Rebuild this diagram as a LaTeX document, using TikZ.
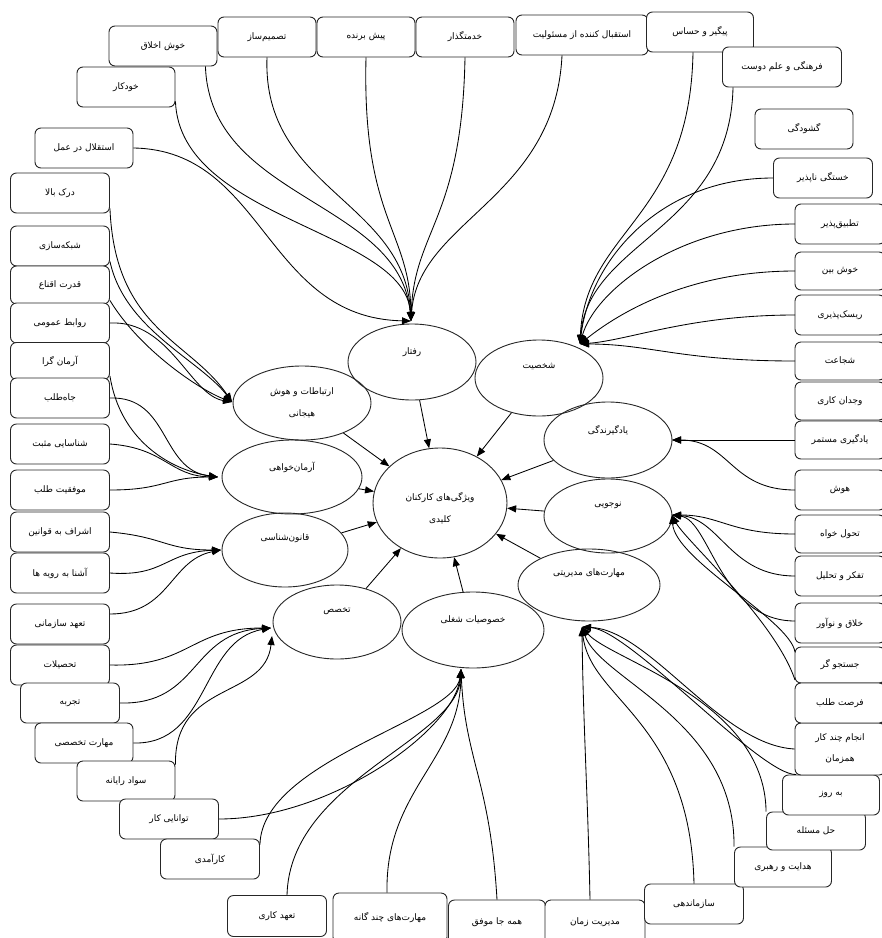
\documentclass[tikz,border=0pt]{standalone}
\usepackage{fontspec}
\usetikzlibrary{shapes.geometric,arrows.meta}
\newfontfamily\fa[Script=Arabic]{DejaVu Sans}
\TeXXeTstate=1
\tikzset{
 box/.style={draw=black!85, line width=0.9pt, rounded corners=6pt, fill=white, inner sep=2pt, align=center, font=\fa\fontsize{9}{21}\selectfont},
 ell/.style={draw=black!85, line width=0.9pt, ellipse, inner sep=0pt},
 lbl/.style={font=\fa\fontsize{9}{22}\selectfont, align=center, inner sep=1pt},
 conn/.style={draw=black, line width=0.85pt, -{Triangle[length=9pt,width=7pt]}},
}
\newcommand\bx[6]{\node[box, minimum width=#4, minimum height=#5] (#1) at (#2,#3) {#6};}
\newcommand\el[5]{\node[ell, minimum width=#4, minimum height=#5] (#1) at (#2,#3) {};}
\newcommand\rl[1]{\beginR #1\endR}
\begin{document}
\begin{tikzpicture}[x=1pt,y=-1pt]
\fill[white] (0,0) rectangle (882,938);
\useasboundingbox (0,0) rectangle (882,938);
% top boxes
\bx{akhlagh}{163}{46}{108}{40}{\rl{خوش اخلاق}}
\bx{khodkar}{126}{87}{98}{40}{\rl{خودکار}}
\bx{tasmim}{267}{37}{98}{40}{\rl{تصمیم^^^^200cساز}}
\bx{pish}{366}{37}{98}{40}{\rl{پیش برنده}}
\bx{khedmat}{465}{37}{98}{40}{\rl{خدمتگذار}}
\bx{esteghbal}{582}{35}{132}{40}{\rl{استقبال کننده از مسئولیت}}
\bx{peygir}{700}{32}{107}{40}{\rl{پیگیر و حساس}}
\bx{farhang}{782}{67}{119}{40}{\rl{فرهنگی و علم دوست}}
\bx{goshoodegi}{804}{129}{98}{40}{\rl{گشودگی}}
% left boxes
\bx{esteghlal}{84}{148}{98}{40}{\rl{استقلال در عمل}}
\bx{dark}{60}{193}{99}{40}{\rl{درک بالا}}
\bx{shabake}{60}{246}{99}{40}{\rl{شبکه^^^^200cسازی}}
\bx{ghodrat}{60}{285}{99}{38}{\rl{قدرت اقناع}}
\bx{ravabet}{60}{323}{99}{40}{\rl{روابط عمومی}}
\bx{armangara}{60}{361}{99}{37}{\rl{آرمان گرا}}
\bx{jahtalab}{60}{398}{99}{40}{\rl{جاه^^^^200cطلب}}
\bx{shenasayi}{60}{444}{99}{40}{\rl{شناسایی مثبت}}
\bx{movafagh}{60}{490}{99}{40}{\rl{موفقیت طلب}}
\bx{eshraf}{60}{532}{99}{40}{\rl{اشراف به قوانین}}
\bx{ashna}{60}{573}{99}{40}{\rl{آشنا به رویه ها}}
\bx{taahodS}{60}{624}{99}{40}{\rl{تعهد سازمانی}}
\bx{tahsil}{60}{665}{99}{40}{\rl{تحصیلات}}
\bx{tajrobe}{70}{703}{99}{40}{\rl{تجربه}}
\bx{maharatT}{84}{743}{98}{40}{\rl{مهارت تخصصی}}
\bx{savad}{126}{781}{98}{40}{\rl{سواد رایانه}}
\bx{tavanayi}{169}{819}{99}{40}{\rl{توانایی کار}}
\bx{karamadi}{210}{859}{99}{40}{\rl{کارآمدی}}
\bx{taahodK}{277}{916}{99}{41}{\rl{تعهد کاری}}
% bottom boxes
\bx{chand}{390}{918}{114}{50}{\rl{مهارت^^^^200cهای چند گانه}}
\bx{hameja}{497}{922}{97}{44}{\rl{همه جا موفق}}
\bx{zaman}{595}{922}{100}{44}{\rl{مدیریت زمان}}
\bx{sazman}{694}{904}{99}{40}{\rl{سازماندهی}}
\bx{hedayat}{783}{867}{97}{40}{\rl{هدایت و رهبری}}
\bx{hal}{816}{831}{99}{38}{\rl{حل مسئله}}
\bx{beruz}{831}{795}{97}{40}{\rl{به روز}}
\bx{anjam}{840}{749}{90}{52}{\rl{انجام چند کار}\\\rl{همزمان}}
% right boxes
\bx{khastegi}{823}{178}{99}{40}{\rl{خستگی ناپذیر}}
\bx{tatbigh}{840}{224}{90}{40}{\rl{تطبیق^^^^200cپذیر}}
\bx{khoshbin}{840}{271}{90}{38}{\rl{خوش بین}}
\bx{risk}{840}{315}{90}{40}{\rl{ریسک^^^^200cپذیری}}
\bx{shojaat}{840}{361}{90}{38}{\rl{شجاعت}}
\bx{vojdan}{840}{401}{90}{38}{\rl{وجدان کاری}}
\bx{yadgiri}{840}{440}{90}{38}{\rl{یادگیری مستمر}}
\bx{hoosh}{840}{490}{90}{40}{\rl{هوش}}
\bx{tahavol}{840}{534}{90}{38}{\rl{تحول خواه}}
\bx{tafakor}{840}{576}{90}{40}{\rl{تفکر و تحلیل}}
\bx{khalagh}{840}{623}{90}{40}{\rl{خلاق و نوآور}}
\bx{jostojoo}{840}{665}{90}{36}{\rl{جستجو گر}}
\bx{forsat}{840}{703}{90}{40}{\rl{فرصت طلب}}
% ellipses
\el{rafter}{412}{362}{128}{76}
\el{shakhsiat}{539}{378}{128}{76}
\el{ertebat}{302}{403}{138}{74}
\el{arman}{292}{477}{140}{74}
\el{ghanoon}{285}{550}{126}{74}
\el{center}{440}{503}{134}{110}
\el{yadgir}{608}{440}{128}{76}
\el{noojoo}{608}{516}{128}{74}
\el{modiriat}{589}{585}{142}{72}
\el{takhasos}{337}{622}{128}{74}
\el{khosusiat}{473}{630}{142}{76}
% ellipse labels
\node[lbl] (tRafter) at (412,352) {\rl{رفتار}};
\node[lbl] (tShakhsiat) at (539,367) {\rl{شخصیت}};
\node[lbl] (tErtebat) at (302,403) {\rl{ارتباطات و هوش}\\\rl{هیجانی}};
\node[lbl] (tArman) at (292,467) {\rl{آرمان^^^^200cخواهی}};
\node[lbl] (tGhanoon) at (285,538) {\rl{قانون^^^^200cشناسی}};
\node[lbl] (tCenter) at (440,508) {\rl{ویژگی^^^^200cهای کارکنان}\\\rl{کلیدی}};
\node[lbl] (tYadgir) at (608,431) {\rl{یادگیرندگی}};
\node[lbl] (tNoojoo) at (608,505) {\rl{نوجویی}};
\node[lbl] (tModiriat) at (589,573) {\rl{مهارت^^^^200cهای مدیریتی}};
\node[lbl] (tTakhasos) at (337,611) {\rl{تخصص}};
\node[lbl] (tKhosusiat) at (473,620) {\rl{خصوصیات شغلی}};
% target points
\coordinate (R) at (411,321);
\coordinate (S) at (580,344);
\coordinate (E) at (232,402);
\coordinate (A) at (218,477);
\coordinate (G) at (221,550);
\coordinate (T) at (271,628);
\coordinate (T2) at (272,636);
\coordinate (K) at (461,669);
\coordinate (M) at (582,627);
\coordinate (N) at (672,515);
\coordinate (Y) at (672,440);
% central arrows
\foreach \s in {rafter,shakhsiat,ertebat,arman,ghanoon,yadgir,noojoo,modiriat,takhasos,khosusiat}
  \draw[conn] (\s) -- (center);
% rafter group
\draw[conn] ([yshift=6]khodkar.south east) .. controls (180,220) and (405,230) .. (R);
\draw[conn] ([xshift=-12]akhlagh.south east) .. controls (210,200) and (400,200) .. (R);
\draw[conn] (esteghlal.east) .. controls (265,150) and (265,318) .. (R);
\draw[conn] (tasmim.south) .. controls (262,190) and (405,200) .. (R);
\draw[conn] (pish.south) .. controls (362,220) and (410,230) .. (R);
\draw[conn] (khedmat.south) .. controls (462,220) and (414,230) .. (R);
\draw[conn] ([xshift=-20]esteghbal.south) .. controls (555,200) and (418,220) .. (R);
% shakhsiat group
\draw[conn] ([xshift=-7]peygir.south) .. controls (690,220) and (585,230) .. (S);
\draw[conn] ([xshift=-49]farhang.south) .. controls (730,230) and (588,240) .. (S);
\draw[conn] (khastegi.west) .. controls (660,178) and (590,260) .. (S);
\draw[conn] ([xshift=-45]tatbigh.center) .. controls (680,224) and (595,290) .. (S);
\draw[conn] ([xshift=-45]khoshbin.center) .. controls (680,271) and (610,320) .. (S);
\draw[conn] ([xshift=-45]risk.center) .. controls (690,315) and (630,340) .. (S);
\draw[conn] ([xshift=-45]shojaat.center) .. controls (680,361) and (650,344) .. (S);
% ertebat group
\draw[conn] ([yshift=5]dark.south east) .. controls (115,330) and (190,340) .. (E);
\draw[conn] ([yshift=5]shabake.south east) .. controls (125,330) and (200,360) .. (E);
\draw[conn] ([yshift=4]ghodrat.south east) .. controls (140,350) and (200,390) .. (E);
\draw[conn] (ravabet.east) .. controls (170,320) and (190,395) .. (E);
% arman group
\draw[conn] ([yshift=4]armangara.south east) .. controls (120,440) and (170,470) .. (A);
\draw[conn] (jahtalab.east) .. controls (170,396) and (160,470) .. (A);
\draw[conn] (shenasayi.east) .. controls (165,448) and (170,476) .. (A);
\draw[conn] (movafagh.east) .. controls (165,490) and (165,477) .. (A);
% ghanoon group
\draw[conn] (eshraf.east) .. controls (165,537) and (165,550) .. (G);
\draw[conn] (ashna.east) .. controls (165,577) and (165,552) .. (G);
\draw[conn] ([yshift=10]taahodS.east) .. controls (170,614) and (170,560) .. (G);
% takhasos group
\draw[conn] (tahsil.east) .. controls (190,667) and (190,628) .. (T);
\draw[conn] (tajrobe.east) .. controls (200,705) and (190,632) .. (T);
\draw[conn] (maharatT.east) .. controls (210,745) and (200,640) .. (T);
\draw[conn] ([yshift=-4]savad.north east) .. controls (174,680) and (265,700) .. (T2);
% khosusiat group
\draw[conn] (tavanayi.east) .. controls (330,819) and (455,730) .. (K);
\draw[conn] ([yshift=-6]karamadi.north east) .. controls (262,760) and (455,720) .. (K);
\draw[conn] ([xshift=10]taahodK.north) .. controls (290,780) and (458,740) .. (K);
\draw[conn] ([xshift=-3]chand.north) .. controls (385,790) and (460,760) .. (K);
\draw[conn] (hameja.north) .. controls (490,780) and (465,760) .. (K);
% modiriat group
\draw[conn] ([xshift=-5]zaman.north) .. controls (588,800) and (583,720) .. (M);
\draw[conn] (sazman.north) .. controls (690,720) and (590,700) .. (M);
\draw[conn] (hedayat.north west) .. controls (735,720) and (600,680) .. (M);
\draw[conn] (hal.north west) .. controls (765,700) and (610,660) .. (M);
\draw[conn] ([xshift=14]beruz.north west) .. controls (760,775) and (630,630) .. (M);
\draw[conn] (anjam.west) .. controls (720,745) and (650,630) .. (M);
% noojoo group
\draw[conn] ([xshift=-45]tahavol.center) .. controls (730,534) and (720,515) .. (N);
\draw[conn] ([xshift=-45]tafakor.center) .. controls (730,576) and (720,518) .. (N);
\draw[conn] ([xshift=-45,yshift=2]khalagh.center) .. controls (720,621) and (710,520) .. (N);
\draw[conn] ([xshift=-45,yshift=-15]jostojoo.center) .. controls (775,620) and (685,540) .. (N);
\draw[conn] ([xshift=-45,yshift=13]jostojoo.center) .. controls (790,620) and (675,560) .. (N);
% yadgir group
\draw[conn] ([xshift=-45]yadgiri.center) -- (Y);
\draw[conn] ([xshift=-45]hoosh.center) .. controls (730,490) and (730,440) .. (Y);
\end{tikzpicture}
\end{document}
